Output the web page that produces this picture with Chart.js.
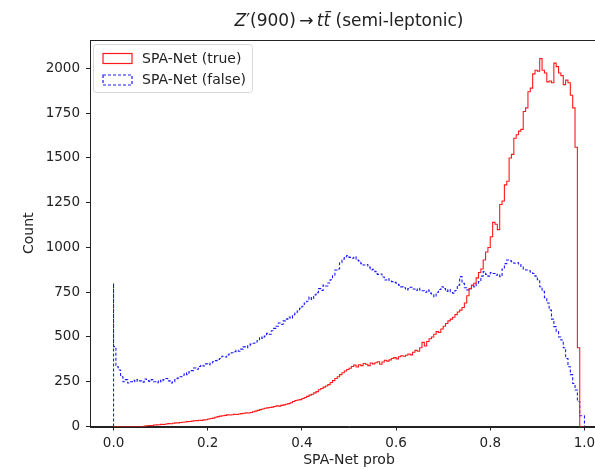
<!DOCTYPE html>
<html>
<head>
<meta charset="utf-8">
<script src="https://cdn.jsdelivr.net/npm/chart.js@4"></script>
<style>
  html, body { margin: 0; padding: 0; background: #fff; overflow: hidden; }
  #wrap { width: 595px; height: 469px; overflow: hidden; }
</style>
</head>
<body>
<div id="wrap"><canvas id="probhist" width="620" height="469"></canvas></div>
<script>
// 200 equal bins over [0, 1]
const binCount = 200;
const binEdges = Array.from({ length: binCount }, (_, i) => i / binCount);

// counts per bin, correct assignments
const trueCounts = [
  0, 0, 0, 0, 0, 0, 0, 0, 0, 0,
  0, 0, 0, 0, 2, 4, 6, 5, 8, 9,
  10, 12, 11, 14, 16, 15, 18, 20, 20, 22,
  24, 25, 27, 28, 30, 32, 33, 35, 34, 37,
  38, 42, 45, 47, 52, 55, 58, 60, 62, 65,
  64, 66, 68, 67, 70, 72, 74, 76, 75, 78,
  82, 86, 90, 94, 98, 102, 104, 106, 108, 112,
  115, 114, 118, 121, 124, 128, 133, 140, 145, 148,
  150, 156, 162, 168, 175, 180, 188, 195, 205, 212,
  220, 226, 234, 246, 256, 268, 278, 290, 300, 310,
  318, 325, 335, 343, 332, 345, 340, 352, 348, 340,
  355, 350, 356, 362, 348, 360, 370, 365, 372, 380,
  385, 378, 390, 395, 392, 398, 405, 400, 415, 425,
  420, 440, 470, 450, 475, 490, 500, 515, 530, 525,
  545, 560, 575, 590, 600, 610, 625, 640, 650, 665,
  690, 730, 770, 790, 800, 830, 860, 880, 930, 975,
  1000, 1060, 1140, 1130, 1100, 1240, 1260, 1350, 1370, 1500,
  1520, 1610, 1630, 1650, 1660, 1760, 1780, 1870, 1890, 1970,
  1990, 1985, 2055, 1990, 1975, 1925, 1930, 1920, 2030, 2010,
  1975, 1960, 1910, 1935, 1920, 1850, 1780, 1560, 440, 0
];

// counts per bin, wrong assignments
const falseCounts = [
  800, 446, 334, 316, 278, 250, 262, 243, 250, 258,
  250, 262, 255, 248, 265, 256, 252, 262, 250, 245,
  258, 250, 262, 268, 255, 243, 250, 262, 270, 278,
  286, 298, 290, 305, 312, 327, 320, 335, 342, 338,
  350, 345, 355, 362, 368, 375, 380, 392, 388, 400,
  405, 412, 418, 425, 420, 432, 445, 440, 452, 460,
  465, 472, 480, 500, 492, 505, 520, 515, 535, 548,
  560, 578, 570, 590, 600, 612, 605, 625, 634, 645,
  660, 672, 690, 700, 723, 710, 735, 748, 770, 760,
  790, 785, 802, 820, 845, 874, 880, 915, 935, 949,
  955, 945, 940, 948, 930, 925, 910, 902, 905, 890,
  875, 878, 865, 850, 852, 835, 818, 825, 812, 809,
  805, 795, 790, 780, 775, 763, 770, 778, 768, 760,
  772, 763, 758, 750, 762, 745, 740, 725, 750, 765,
  781, 770, 755, 765, 748, 745, 760, 790, 837, 800,
  775, 763, 770, 785, 780, 800, 810, 840, 865, 850,
  840, 860, 855, 845, 850, 837, 880, 910, 930, 925,
  920, 912, 915, 905, 890, 880, 874, 870, 862, 855,
  840, 820, 781, 755, 720, 690, 650, 600, 558, 530,
  500, 483, 440, 380, 334, 290, 240, 204, 140, 60
];

const xTicks = [0, 0.2, 0.4, 0.6, 0.8, 1.0];
const yTicks = [0, 250, 500, 750, 1000, 1250, 1500, 1750, 2000];

// outline of a step histogram: baseline -> bins -> baseline
function stepPoints(counts) {
  const pts = [{ x: binEdges[0], y: 0 }];
  counts.forEach((c, i) => pts.push({ x: binEdges[i], y: c }));
  pts.push({ x: 1, y: counts[counts.length - 1] });
  pts.push({ x: 1, y: 0 });
  return pts;
}

const FONT = 'DejaVu Sans';
const INK = '#222';

const frame = {
  id: 'frame',
  afterDatasetsDraw(chart) {
    const { ctx, chartArea: a } = chart;
    ctx.save();
    ctx.strokeStyle = INK;
    ctx.lineWidth = 1;
    ctx.strokeRect(Math.round(a.left) + 0.5, Math.round(a.top) + 0.5,
      Math.round(a.right - a.left), Math.round(a.bottom - a.top));
    ctx.restore();
  }
};

const histLegend = {
  id: 'histLegend',
  afterDraw(chart) {
    const { ctx, chartArea: a } = chart;
    const sets = chart.data.datasets;
    ctx.save();
    ctx.font = `14px "${FONT}"`;
    const textW = Math.max(...sets.map(d => ctx.measureText(d.label).width));
    const x0 = a.left + 3, y0 = a.top + 4;
    const w = 48 + textW + 7, h = 48;
    ctx.beginPath();
    ctx.roundRect(x0 + 0.5, y0 + 0.5, w, h, 3);
    ctx.fillStyle = 'rgba(255,255,255,0.8)';
    ctx.fill();
    ctx.strokeStyle = '#d6d6d6';
    ctx.lineWidth = 1;
    ctx.stroke();
    sets.forEach((d, i) => {
      const cy = y0 + 14.5 + i * 21.5;
      ctx.strokeStyle = d.borderColor;
      ctx.lineWidth = 1.2;
      ctx.setLineDash(d.borderDash || []);
      ctx.strokeRect(x0 + 10, cy - 5, 29, 10);
      ctx.setLineDash([]);
      ctx.fillStyle = INK;
      ctx.textBaseline = 'middle';
      ctx.fillText(d.label, x0 + 49, cy + 0.5);
    });
    ctx.restore();
  }
};

// title with math-style italics: Z'(900) -> t tbar
const mathTitle = {
  id: 'mathTitle',
  afterDraw(chart) {
    const { ctx, chartArea: a } = chart;
    const size = 17;
    const parts = [
      { t: 'Z', it: true },
      { t: '\u2032(900)\u2009\u2192\u2009', it: false },
      { t: 't', it: true },
      { t: 't', it: true, bar: true },
      { t: ' (semi-leptonic)', it: false }
    ];
    ctx.save();
    const fontOf = p => `${p.it ? 'italic ' : ''}${size}px "${FONT}"`;
    let total = 0;
    parts.forEach(p => { ctx.font = fontOf(p); p.w = ctx.measureText(p.t).width; total += p.w; });
    let x = (a.left + a.right) / 2 - total / 2;
    const y = 22;
    ctx.fillStyle = INK;
    ctx.textBaseline = 'middle';
    parts.forEach(p => {
      ctx.font = fontOf(p);
      ctx.fillText(p.t, x, y);
      if (p.bar) {
        ctx.fillRect(x + 2, y - 11, p.w - 1, 1.2);
      }
      x += p.w;
    });
    ctx.restore();
  }
};

new Chart(document.getElementById('probhist'), {
  type: 'line',
  data: {
    datasets: [
      {
        label: 'SPA-Net (true)',
        data: stepPoints(trueCounts),
        borderColor: '#ff1a1a',
        borderWidth: 1.1,
        stepped: 'after',
        pointRadius: 0,
        fill: false
      },
      {
        label: 'SPA-Net (false)',
        data: stepPoints(falseCounts),
        borderColor: '#1a1aff',
        borderWidth: 1.1,
        borderDash: [3, 2],
        stepped: 'after',
        pointRadius: 0,
        fill: false
      }
    ]
  },
  options: {
    responsive: false,
    animation: false,
    layout: { padding: { top: 40, right: 12, left: 0, bottom: 0 } },
    plugins: {
      legend: { display: false },
      tooltip: { enabled: false }
    },
    scales: {
      x: {
        type: 'linear',
        min: -0.05,
        max: 1.05,
        afterBuildTicks: s => { s.ticks = xTicks.map(v => ({ value: v })); },
        afterFit: s => { s.height = 42.5; },
        ticks: {
          callback: v => v.toFixed(1),
          font: { family: FONT, size: 13.5 },
          color: INK,
          padding: 5,
          maxRotation: 0,
          autoSkip: false
        },
        grid: { drawOnChartArea: false, drawTicks: true, tickLength: 4, color: INK },
        border: { display: true, color: INK, width: 1 },
        title: { display: true, text: 'SPA-Net prob', font: { family: FONT, size: 14 }, color: INK, padding: 0 }
      },
      y: {
        min: 0,
        max: 2159,
        afterBuildTicks: s => { s.ticks = yTicks.map(v => ({ value: v })); },
        afterFit: s => { s.width = 90; },
        ticks: {
          callback: v => String(v),
          font: { family: FONT, size: 13.5 },
          color: INK,
          padding: 6,
          autoSkip: false
        },
        grid: { drawOnChartArea: false, drawTicks: true, tickLength: 4, color: INK },
        border: { display: true, color: INK, width: 1 },
        title: { display: true, text: 'Count', font: { family: FONT, size: 14 }, color: INK, padding: { top: 20.5, bottom: 0 } }
      }
    }
  },
  plugins: [frame, histLegend, mathTitle]
});
</script>
</body>
</html>
